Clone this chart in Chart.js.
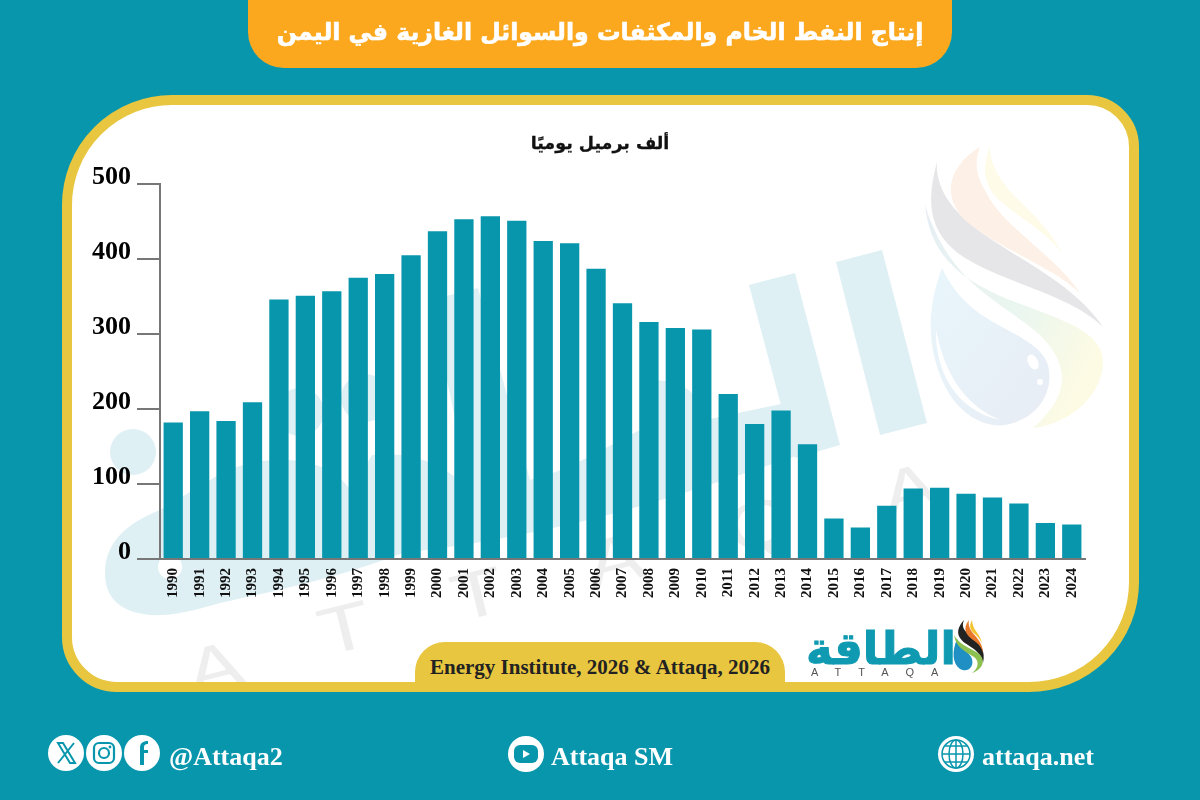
<!DOCTYPE html>
<html lang="ar">
<head>
<meta charset="UTF-8">
<title>إنتاج النفط الخام والمكثفات والسوائل الغازية في اليمن</title>
<script src="https://cdn.jsdelivr.net/npm/chart.js"></script>
<style>
  html, body { margin: 0; padding: 0; }
  body { width: 1200px; height: 800px; background: #0896ad; position: relative; overflow: hidden; font-family: "Liberation Serif", serif; font-weight: bold; }
  .abs { position: absolute; }
  #panel { left: 62px; top: 95px; width: 1057px; height: 577px; background: #fff; border: 10px solid #e9c63f;
           border-radius: 110px 52px 110px 55px; overflow: hidden; }
  #panel svg { position: absolute; left: -72px; top: -105px; }
  #chartCanvas { left: 0; top: 0; }
  #titlePill { left: 248px; top: -30px; width: 704px; height: 98px; background: #fba81e; border-radius: 0 0 36px 36px / 0 0 36px 36px; }
  #titleText { left: 248px; top: 14px; width: 704px; text-align: center; color: #fff; font: bold 23.6px "DejaVu Sans", sans-serif; direction: rtl; line-height: 36px; -webkit-text-stroke: 0.6px #fff; }
  #unitText { left: 400px; top: 130px; width: 400px; text-align: center; color: #111; font: bold 17.5px "DejaVu Sans", sans-serif; direction: rtl; line-height: 26px; -webkit-text-stroke: 0.3px #111; }
  #sourcePill { left: 415px; top: 642px; width: 370px; height: 42px; background: #e9c63f; border-radius: 30px 30px 0 0; text-align: center; color: #222; font-size: 21px; line-height: 50px; }
  #logoText { left: 806px; top: 618px; width: 150px; text-align: center; color: #0f9ab1; font: bold 45px "DejaVu Sans", sans-serif; direction: rtl; line-height: 62px; -webkit-text-stroke: 1px #0f9ab1; }
  #logoSub { left: 811px; top: 666px; color: #555; font: 11px "Liberation Sans", sans-serif; letter-spacing: 17px; line-height: 12px; }
  .foot { color: #fff; font-size: 26px; line-height: 30px; top: 742px; }
</style>
</head>
<body>
<div id="panel" class="abs">
  <svg width="1200" height="800" viewBox="0 0 1200 800">
    <defs>
      <linearGradient id="dropGrad" x1="0" y1="0" x2="1" y2="1"><stop offset="0" stop-color="#e8f6fb"/><stop offset="1" stop-color="#e8ecf5"/></linearGradient>
      <linearGradient id="bandGrad" x1="0" y1="0" x2="1" y2="0.6"><stop offset="0" stop-color="#e6eef4"/><stop offset="0.6" stop-color="#eaf6ef"/><stop offset="1" stop-color="#fdfbe4"/></linearGradient>
    </defs>
    <!-- watermark: tilted logo behind the bars -->
    <g fill="#dff0f5">
      <polygon points="749,285 795,273 840,445 795,458"/>
      <polygon points="836,262 882,250 927,423 880,435"/>
      <circle cx="133" cy="452" r="23"/>
      <circle cx="300" cy="412" r="24"/>
      <circle cx="365" cy="398" r="24"/>
      <path d="M105,573 C105,540 130,522 160,510 L215,477 C260,450 330,455 350,490 L372,455 C420,450 450,470 470,490 L430,300 L478,288 L530,480 C570,470 600,450 640,430 L650,380 C680,380 700,390 705,420 L800,400 L815,450 C720,480 600,530 403,553 C340,577 280,590 220,603 C190,612 170,616 150,615 C120,612 105,598 105,573Z"/>
    </g>
    <circle cx="170" cy="567" r="12" fill="#fff"/>
    <g fill="#eeeeee" font-family="Liberation Sans, sans-serif" font-size="66" font-weight="400" text-anchor="middle">
      <text transform="translate(220,690) rotate(-14) scale(1.3,1)">A</text>
      <text transform="translate(350,650) rotate(-14) scale(1.3,1)">T</text>
      <text transform="translate(483,616) rotate(-14) scale(1.3,1)">T</text>
      <text transform="translate(620,582) rotate(-14) scale(1.3,1)">A</text>
      <text transform="translate(765,546) rotate(-14) scale(1.3,1)">Q</text>
      <text transform="translate(915,512) rotate(-14) scale(1.3,1)">A</text>
    </g>
    <g>
      <path d="M937,162 C925,205 930,235 965,258 C1010,285 1070,295 1103,327 C1075,285 1020,260 985,235 C955,215 935,190 937,162Z" fill="#e6e6e8"/>
      <path d="M980,147 C950,165 940,195 965,220 C1000,250 1050,265 1080,293 C1055,255 1000,225 985,190 C975,175 975,160 980,147Z" fill="#fdf0e6"/>
      <path d="M990,147 C980,170 985,190 1005,205 C1030,225 1050,235 1063,255 C1045,220 1020,205 1005,185 C995,172 990,160 990,147Z" fill="#fefbe8"/>
      <path d="M925,205 C930,255 960,280 1010,300 C1060,320 1105,330 1103,365 C1100,400 1065,425 1033,428 C1065,400 1075,370 1040,335 C1000,300 950,285 925,205Z" fill="url(#bandGrad)"/>
      <path d="M942,268 C930,300 925,335 940,375 C955,415 985,428 1005,425 C1035,420 1055,395 1048,365 C1040,340 1000,330 975,310 C960,298 950,285 942,268Z" fill="url(#dropGrad)"/>
      <path d="M936,330 C935,370 955,410 1000,420 C965,405 945,375 936,330Z" fill="#fff"/>
      <ellipse cx="1033" cy="362" rx="5" ry="8" fill="#fff" transform="rotate(-25 1033 362)"/>
      <circle cx="1040" cy="382" r="3" fill="#fff"/>
    </g>
  </svg>
</div>
<canvas id="chartCanvas" class="abs" width="1200" height="800"></canvas>
<div id="titlePill" class="abs"></div>
<div id="titleText" class="abs">إنتاج النفط الخام والمكثفات والسوائل الغازية في اليمن</div>
<div id="unitText" class="abs">ألف برميل يوميًا</div>
<div id="sourcePill" class="abs">Energy Institute, 2026 &amp; Attaqa, 2026</div>
<div id="logoText" class="abs">الطاقة</div>
<div id="logoSub" class="abs">ATTAQA</div>
<svg class="abs" style="left:950px;top:617px" width="36" height="58" viewBox="0 0 36 58">
  <path d="M14,3 C4,14 8,22 18,28 C26,33 32,38 33,46 C36,34 30,26 22,20 C14,14 11,10 14,3Z" fill="#222"/>
  <path d="M19,3 C12,12 16,18 23,23 C29,27 32,31 33,36 C33,26 26,20 22,15 C19,11 18,7 19,3Z" fill="#e8792a"/>
  <path d="M22,3 C18,10 21,14 26,18 C29,21 31,24 32,27 C31,19 26,15 24,11 C23,8 22,6 22,3Z" fill="#f4c430"/>
  <path d="M7,22 C2,34 2,46 10,52 C18,56 24,50 22,42 C20,36 12,32 7,22Z" fill="#1f8fc4"/>
  <path d="M4,18 C6,30 14,34 24,40 C30,44 28,52 22,56 C34,52 36,42 28,36 C18,30 10,28 4,18Z" fill="#8cc152"/>
</svg>

<!-- footer icons -->
<svg class="abs" style="left:48px;top:735px" width="115" height="36" viewBox="0 0 115 36">
  <g fill="#fff"><circle cx="18" cy="18" r="18"/><circle cx="56" cy="18" r="18"/><circle cx="94" cy="18" r="18"/></g>
  <path d="M10,8 L15,8 L27,28 L22,28Z M26,8 L10,28" fill="none" stroke="#0896ad" stroke-width="2"/>
  <rect x="46" y="8" width="20" height="20" rx="5" fill="none" stroke="#0896ad" stroke-width="2.2"/>
  <circle cx="56" cy="18" r="5" fill="none" stroke="#0896ad" stroke-width="2.2"/>
  <circle cx="62" cy="12" r="1.4" fill="#0896ad"/>
  <path d="M92,30 L92,13 C92,8 95,6 100,6 L100,9 C97,9 96,10 96,13 L96,15 L100,15 L100,18 L96,18 L96,30Z" fill="#0896ad"/>
</svg>
<div class="abs foot" style="left:169px">@Attaqa2</div>
<svg class="abs" style="left:508px;top:736px" width="36" height="36" viewBox="0 0 36 36">
  <circle cx="18" cy="18" r="18" fill="#fff"/>
  <rect x="6" y="9" width="24" height="18" rx="6" fill="#0896ad"/>
  <path d="M15,14 L22,18 L15,22Z" fill="#fff"/>
</svg>
<div class="abs foot" style="left:551px">Attaqa SM</div>
<svg class="abs" style="left:938px;top:736px" width="36" height="36" viewBox="0 0 36 36">
  <circle cx="18" cy="18" r="18" fill="#fff"/>
  <g fill="none" stroke="#0896ad" stroke-width="1.5">
    <circle cx="18" cy="18" r="14"/><ellipse cx="18" cy="18" rx="7" ry="14"/><path d="M18,4 L18,32 M4,18 L32,18 M7,10 L29,10 M7,26 L29,26"/>
  </g>
</svg>
<div class="abs foot" style="left:982px">attaqa.net</div>

<script>
// بيانات الرسم
var years = ['1990','1991','1992','1993','1994','1995','1996','1997','1998','1999','2000','2001','2002','2003','2004','2005','2006','2007','2008','2009','2010','2011','2012','2013','2014','2015','2016','2017','2018','2019','2020','2021','2022','2023','2024'];
var production = [182,197,184,209,346,351,357,375,380,405,437,453,457,451,424,421,387,341,316,308,306,220,180,198,153,54,42,71,94,95,87,82,74,48,46];
var yTicks = [0,100,200,300,400,500];

new Chart(document.getElementById('chartCanvas'), {
  type: 'bar',
  data: {
    labels: years,
    datasets: [{ data: production, backgroundColor: '#0896ad', barPercentage: 0.73, categoryPercentage: 1 }]
  },
  options: {
    responsive: false,
    animation: false,
    devicePixelRatio: 1,
    layout: { padding: { left: 0, top: 184, right: 115, bottom: 0 } },
    plugins: { legend: { display: false }, tooltip: { enabled: false } },
    scales: {
      x: {
        afterFit: function (scale) { scale.height = 241; },
        grid: { display: false },
        border: { color: '#777', width: 2 },
        ticks: {
          autoSkip: false, minRotation: 90, maxRotation: 90, padding: 1, color: '#111',
          font: { family: 'Liberation Serif', weight: 'bold', size: 15 }
        }
      },
      y: {
        min: 0, max: 500,
        afterFit: function (scale) { scale.width = 160; },
        afterBuildTicks: function (scale) { scale.ticks = yTicks.map(function (v) { return { value: v }; }); },
        grid: { drawOnChartArea: false, color: '#777', tickLength: 23, lineWidth: 2, tickWidth: 2 },
        border: { color: '#777', width: 2 },
        ticks: {
          padding: 6, color: '#000', labelOffset: -7,
          font: { family: 'Liberation Serif', weight: 'bold', size: 26 }
        }
      }
    }
  }
});
</script>
</body>
</html>
